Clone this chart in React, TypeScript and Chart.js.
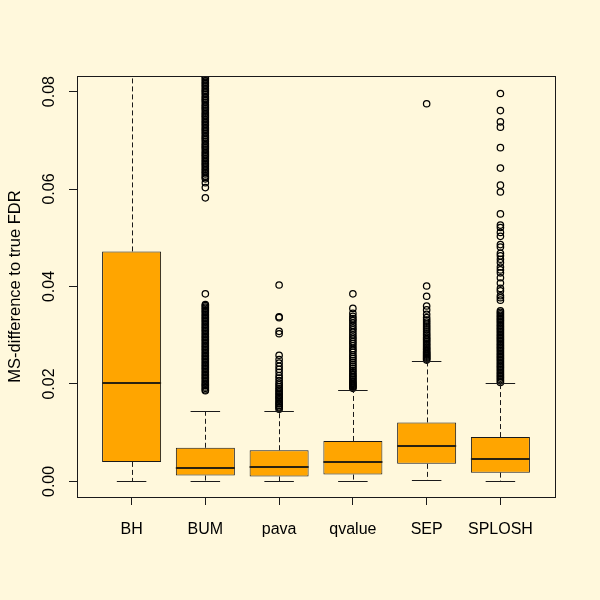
import React, { useEffect, useRef } from 'react';
import { Chart, registerables } from 'chart.js';
Chart.register(...registerables);

const categories = ['BH', 'BUM', 'pava', 'qvalue', 'SEP', 'SPLOSH'];
const whiskerLow = [0.0, 0.0, 0.0, 0.0, 0.0002, 0.0];
const q1 = [0.004, 0.0012, 0.001, 0.0014, 0.0036, 0.0018];
const median = [0.0201, 0.0028, 0.003, 0.0039, 0.0073, 0.0045];
const q3 = [0.0472, 0.0069, 0.0064, 0.0083, 0.0121, 0.0091];
const whiskerHigh = [0.1046, 0.0144, 0.0144, 0.0187, 0.0247, 0.0202];

const yTicks = [0.0, 0.02, 0.04, 0.06, 0.08];
const yTitle = 'MS-difference to true FDR';

const bhOutliers: number[] = [];
const bumOutliers = [
  0.0186, 0.0188, 0.0191, 0.0194, 0.0197, 0.0199, 0.0202, 0.0205, 0.0208, 0.0211,
  0.0214, 0.0217, 0.0220, 0.0223, 0.0226, 0.0229, 0.0232, 0.0235, 0.0238, 0.0241,
  0.0244, 0.0247, 0.0250, 0.0253, 0.0256, 0.0259, 0.0262, 0.0265, 0.0268, 0.0271,
  0.0274, 0.0277, 0.0280, 0.0283, 0.0286, 0.0289, 0.0292, 0.0295, 0.0298, 0.0301,
  0.0304, 0.0307, 0.0310, 0.0313, 0.0316, 0.0319, 0.0322, 0.0325, 0.0328, 0.0331,
  0.0334, 0.0337, 0.0340, 0.0343, 0.0346, 0.0349, 0.0352, 0.0355, 0.0358, 0.0361,
  0.0363, 0.0385,
  0.0582, 0.0603, 0.0613, 0.0621, 0.0624, 0.0627, 0.0631, 0.0634, 0.0637, 0.0640,
  0.0643, 0.0647, 0.0650, 0.0653, 0.0656, 0.0659, 0.0662, 0.0666, 0.0669, 0.0672,
  0.0675, 0.0678, 0.0682, 0.0685, 0.0688, 0.0691, 0.0694, 0.0698, 0.0701, 0.0704,
  0.0707, 0.0710, 0.0714, 0.0717, 0.0720, 0.0723, 0.0726, 0.0730, 0.0733, 0.0736,
  0.0739, 0.0742, 0.0746, 0.0749, 0.0752, 0.0755, 0.0758, 0.0762, 0.0765, 0.0768,
  0.0771, 0.0774, 0.0778, 0.0781, 0.0784, 0.0787, 0.0790, 0.0794, 0.0797, 0.0800,
  0.0803, 0.0806, 0.0810, 0.0813, 0.0816, 0.0819, 0.0822, 0.0826, 0.0829, 0.0832,
  0.0836, 0.0841,
];
const pavaOutliers = [
  0.0148, 0.0151, 0.0153, 0.0156, 0.0159, 0.0161, 0.0164, 0.0167, 0.0170, 0.0172,
  0.0175, 0.0178, 0.0181, 0.0184, 0.0187, 0.0190, 0.0194, 0.0198, 0.0202, 0.0207,
  0.0212, 0.0217, 0.0224, 0.0230, 0.0236, 0.0243, 0.0250, 0.0259, 0.0303, 0.0308,
  0.0336, 0.0338, 0.0403,
];
const qvalueOutliers = [
  0.0191, 0.0193, 0.0195, 0.0197, 0.0199, 0.0201, 0.0204, 0.0206, 0.0209, 0.0212,
  0.0215, 0.0218, 0.0221, 0.0225, 0.0228, 0.0232, 0.0236, 0.0240, 0.0244, 0.0248,
  0.0252, 0.0256, 0.0260, 0.0265, 0.0269, 0.0273, 0.0278, 0.0283, 0.0287, 0.0292,
  0.0296, 0.0301, 0.0306, 0.0311, 0.0315, 0.0320, 0.0325, 0.0330, 0.0334, 0.0339,
  0.0345, 0.0355, 0.0385,
];
const sepOutliers = [
  0.0249, 0.0251, 0.0253, 0.0255, 0.0257, 0.0259, 0.0261, 0.0263, 0.0265, 0.0267,
  0.0270, 0.0272, 0.0275, 0.0278, 0.0281, 0.0284, 0.0287, 0.0290, 0.0293, 0.0296,
  0.0300, 0.0303, 0.0307, 0.0311, 0.0315, 0.0319, 0.0323, 0.0327, 0.0331, 0.0336,
  0.0343, 0.0352, 0.0360, 0.0380, 0.0401, 0.0775,
];
const splashOutliers = [
  0.0203, 0.0206, 0.0209, 0.0212, 0.0215, 0.0218, 0.0221, 0.0224, 0.0227, 0.0230,
  0.0233, 0.0236, 0.0239, 0.0242, 0.0245, 0.0248, 0.0251, 0.0254, 0.0257, 0.0260,
  0.0263, 0.0266, 0.0269, 0.0272, 0.0275, 0.0278, 0.0281, 0.0284, 0.0287, 0.0290,
  0.0293, 0.0296, 0.0299, 0.0302, 0.0305, 0.0308, 0.0311, 0.0314, 0.0317, 0.0320,
  0.0323, 0.0326, 0.0329, 0.0332, 0.0335, 0.0338, 0.0341, 0.0344, 0.0347, 0.0350,
  0.0372, 0.0377, 0.0381, 0.0391, 0.0396, 0.0407, 0.0418, 0.0428, 0.0434, 0.0440,
  0.0449, 0.0456, 0.0463, 0.0468, 0.0481, 0.0486, 0.0503, 0.0511, 0.0521, 0.0526,
  0.0549, 0.0594, 0.0608, 0.0643, 0.0685, 0.0727, 0.0738, 0.0761, 0.0796,
];
const outliers = [bhOutliers, bumOutliers, pavaOutliers, qvalueOutliers, sepOutliers, splashOutliers];

const FONT = 'Liberation Sans, Arial, Helvetica, sans-serif';
const BG = '#FFF8DC';
const BOX_FILL = '#FFA500';
const INK = '#1a1a1a';

const boxPartsPlugin = {
  id: 'boxParts',
  afterDatasetsDraw(chart: any) {
    const { ctx, chartArea, scales } = chart;
    const x = scales.x;
    const y = scales.y;
    ctx.save();
    ctx.beginPath();
    ctx.rect(chartArea.left, chartArea.top, chartArea.right - chartArea.left, chartArea.bottom - chartArea.top);
    ctx.clip();
    ctx.strokeStyle = INK;
    ctx.lineWidth = 1;
    categories.forEach((_, i) => {
      const c = i + 1;
      const xc = Math.round(x.getPixelForValue(c)) + 0.5;
      ctx.setLineDash([5, 3]);
      ctx.beginPath();
      ctx.moveTo(xc, y.getPixelForValue(q3[i]));
      ctx.lineTo(xc, y.getPixelForValue(whiskerHigh[i]));
      ctx.moveTo(xc, y.getPixelForValue(q1[i]));
      ctx.lineTo(xc, y.getPixelForValue(whiskerLow[i]));
      ctx.stroke();
      ctx.setLineDash([]);
      ctx.beginPath();
      const sl = x.getPixelForValue(c - 0.2);
      const sr = x.getPixelForValue(c + 0.2);
      const yh = Math.round(y.getPixelForValue(whiskerHigh[i])) + 0.5;
      const yl = Math.round(y.getPixelForValue(whiskerLow[i])) + 0.5;
      ctx.moveTo(sl, yh);
      ctx.lineTo(sr, yh);
      ctx.moveTo(sl, yl);
      ctx.lineTo(sr, yl);
      ctx.stroke();
      ctx.strokeStyle = '#2a2210';
      ctx.lineWidth = 2;
      ctx.beginPath();
      const ym = Math.round(y.getPixelForValue(median[i]));
      ctx.moveTo(x.getPixelForValue(c - 0.4), ym);
      ctx.lineTo(x.getPixelForValue(c + 0.4), ym);
      ctx.stroke();
      ctx.strokeStyle = INK;
      ctx.lineWidth = 1;
    });
    ctx.restore();
  },
  afterDraw(chart: any) {
    const { ctx, chartArea } = chart;
    ctx.save();
    ctx.strokeStyle = INK;
    ctx.lineWidth = 1;
    ctx.strokeRect(
      Math.round(chartArea.left) + 0.5,
      Math.round(chartArea.top) + 0.5,
      Math.round(chartArea.right - chartArea.left),
      Math.round(chartArea.bottom - chartArea.top)
    );
    ctx.restore();
  },
};

export default function App() {
  const ref = useRef<HTMLCanvasElement>(null);
  useEffect(() => {
    const canvas = ref.current!;
    const boxData = categories.map((_, i) => ({ x: i + 1, y: [q1[i], q3[i]] }));
    const outlierData = outliers.flatMap((arr, i) => arr.map((v) => ({ x: i + 1, y: v })));
    const chart = new Chart(canvas, {
      type: 'bar',
      data: {
        datasets: [
          {
            type: 'bar',
            data: boxData as any,
            backgroundColor: BOX_FILL,
            borderColor: INK,
            borderWidth: 1,
            borderSkipped: false,
            categoryPercentage: 0.8,
            barPercentage: 1.0,
            order: 2,
          } as any,
          {
            type: 'scatter',
            data: outlierData as any,
            pointRadius: 3.2,
            pointBorderWidth: 1.25,
            pointBackgroundColor: 'rgba(0,0,0,0)',
            pointBorderColor: '#000',
            clip: 0,
            order: 1,
          } as any,
        ],
      },
      options: {
        animation: false,
        responsive: false,
        maintainAspectRatio: false,
        layout: { padding: { top: 76, right: 45, left: 0, bottom: 0 } },
        plugins: { legend: { display: false }, tooltip: { enabled: false } },
        scales: {
          x: {
            type: 'linear',
            min: 0.26,
            max: 6.74,
            offset: false,
            afterBuildTicks: (s: any) => {
              s.ticks = categories.map((_, i) => ({ value: i + 1 }));
            },
            afterFit: (s: any) => {
              s.height = 103;
            },
            ticks: {
              callback: (v: any) => categories[Math.round(Number(v)) - 1] ?? '',
              font: { family: FONT, size: 16 },
              color: '#000',
              padding: 15,
              maxRotation: 0,
              minRotation: 0,
              autoSkip: false,
            },
            grid: { display: true, drawOnChartArea: false, drawTicks: true, tickLength: 8, color: INK, offset: false },
            border: { display: false },
          },
          y: {
            type: 'linear',
            min: -0.0032,
            max: 0.0832,
            afterBuildTicks: (s: any) => {
              s.ticks = yTicks.map((v) => ({ value: v }));
            },
            afterFit: (s: any) => {
              s.width = 77;
            },
            ticks: {
              callback: (v: any) => Number(v).toFixed(2),
              font: { family: FONT, size: 16 },
              color: '#000',
              padding: 4,
              minRotation: 90,
              maxRotation: 90,
              crossAlign: 'center',
              autoSkip: false,
            },
            grid: { display: true, drawOnChartArea: false, drawTicks: true, tickLength: 8, color: INK },
            border: { display: false },
            title: {
              display: true,
              text: yTitle,
              font: { family: FONT, size: 16.5 },
              color: '#000',
              padding: { top: 6, bottom: 0 },
            },
          },
        },
      },
      plugins: [boxPartsPlugin],
    } as any);
    return () => chart.destroy();
  }, []);
  return (
    <div style={{ position: 'absolute', left: 0, top: 0, width: 600, height: 600, background: BG }}>
      <canvas ref={ref} width={600} height={600} style={{ display: 'block', width: 600, height: 600 }} />
    </div>
  );
}
